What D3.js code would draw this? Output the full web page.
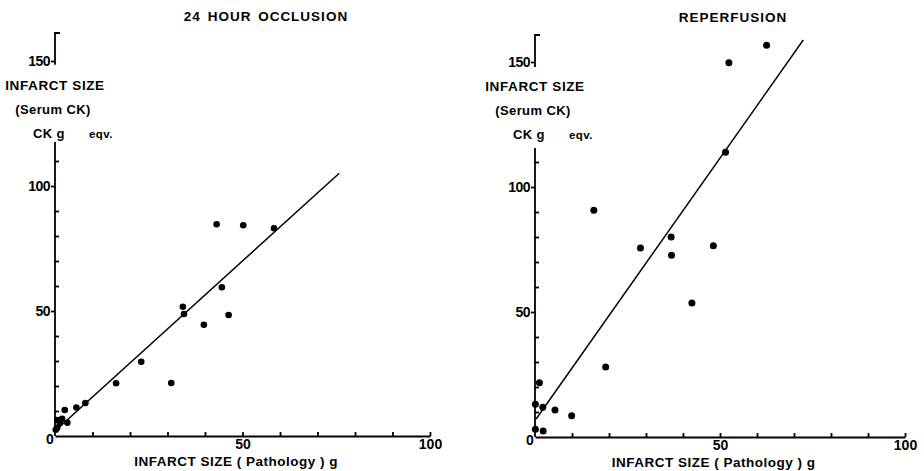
<!DOCTYPE html>
<meta charset="utf-8">
<style>
body { margin: 0; background: #fff; }
svg text {
  font-family: "Liberation Sans", Arial, sans-serif;
  font-weight: bold;
  fill: #000;
}
.axis path, .axis line { stroke: #000; stroke-width: 1.8; fill: none; }
</style>
<body>
<script src="https://d3js.org/d3.v7.min.js"></script>
<script>
// infarct size by pathology (g) against infarct size by serum CK (CK g eqv.)

// 24 hour occlusion
var occlusionX = [43.1, 50.2, 58.4, 44.5, 34.1, 34.4, 39.7, 46.3, 23.0, 16.3, 31.0,
                  2.6, 5.7, 8.1, 0.6, 1.9, 3.3, 0.6, 0.2, 1.3];
var occlusionY = [84.7, 84.3, 83.1, 59.5, 51.7, 48.8, 44.5, 48.4, 29.7, 21.1, 21.2,
                  10.4, 11.4, 13.2, 6.4, 6.9, 5.3, 3.3, 2.5, 5.2];
var occlusionFitX = [0, 75.8];
var occlusionFitY = [2.0, 105.1];

// reperfusion
var reperfusionX = [15.9, 28.5, 36.8, 36.9, 48.2, 42.4, 19.1, 1.2, 52.4, 62.6, 51.5,
                    0.1, 2.1, 5.4, 9.9, 0.1, 2.2];
var reperfusionY = [90.7, 75.6, 80.0, 72.7, 76.5, 53.6, 28.0, 21.7, 149.7, 156.7, 113.9,
                    13.1, 11.9, 10.8, 8.5, 3.1, 2.4];
var reperfusionFitX = [0.3, 72.5];
var reperfusionFitY = [7.2, 158.8];

var xTicks = [10, 20, 30, 40, 50, 60, 70, 80, 90, 100];
var xTickLabels = [50, 100];
var yMajorTicks = [50, 100, 150];
var yMinorTicks = [10, 20, 30, 40, 60, 70, 80, 90, 110];

var svg = d3.select("body").append("svg")
    .attr("width", 924)
    .attr("height", 471)
    .style("background", "#fff");

var panels = [
  {title: "24 HOUR OCCLUSION", xs: occlusionX, ys: occlusionY,
   fitX: occlusionFitX, fitY: occlusionFitY,
   left: 55, right: 430, bottom: 436, top150: 61, r: 3.3,
   titleX: 266, titleY: 21, lowTop: 117.6, highBottom: 148.5, highTop: 161.2},
  {title: "REPERFUSION", xs: reperfusionX, ys: reperfusionY,
   fitX: reperfusionFitX, fitY: reperfusionFitY,
   left: 535, right: 905, bottom: 437, top150: 62, r: 3.5,
   titleX: 733, titleY: 22, lowTop: 115.6, highBottom: 148, highTop: 160.8}
];

panels.forEach(function(p) {
  var x = d3.scaleLinear().domain([0, 100]).range([p.left, p.right]);
  var y = d3.scaleLinear().domain([0, 150]).range([p.bottom, p.top150]);
  var g = svg.append("g");

  // x axis, ticks pointing up into the plot
  g.append("g")
      .attr("class", "axis")
      .attr("transform", "translate(0," + y(0) + ")")
      .call(d3.axisBottom(x)
        .tickValues(xTicks)
        .tickSize(-4)
        .tickSizeOuter(0)
        .tickPadding(3)
        .tickFormat(function(d) { return xTickLabels.indexOf(d) >= 0 ? d : ""; }))
      .call(function(a) {
        a.selectAll("text").style("font-size", "14px").style("font-family", null);
      });

  // y axis drawn in two pieces, broken above 110
  var seg = d3.line().x(x(0)).y(function(d) { return y(d); });
  g.append("path")
      .attr("d", seg([0, p.lowTop]))
      .attr("stroke", "#000").attr("stroke-width", 1.8).attr("fill", "none");
  g.append("path")
      .attr("d", "M" + (x(0) + 5) + "," + y(p.highTop) + "H" + x(0) + "V" + y(p.highBottom))
      .attr("stroke", "#000").attr("stroke-width", 1.8).attr("fill", "none");

  g.append("g")
      .attr("class", "axis")
      .attr("transform", "translate(" + x(0) + ",0)")
      .call(d3.axisLeft(y).tickValues(yMinorTicks).tickSize(-4).tickFormat(""))
      .call(function(a) { a.select(".domain").remove(); });

  g.append("g")
      .attr("class", "axis")
      .attr("transform", "translate(" + x(0) + ",0)")
      .call(d3.axisLeft(y).tickValues(yMajorTicks).tickSize(4).tickPadding(1))
      .call(function(a) {
        a.select(".domain").remove();
        a.selectAll("text").style("font-size", "14px").style("font-family", null)
          .style("letter-spacing", "-0.5px");
      });

  // origin label
  g.append("text")
      .attr("x", x(0) - 5)
      .attr("y", y(0) + 8)
      .attr("text-anchor", "middle")
      .style("font-size", "14px")
      .text("0");

  // titles and axis labels
  g.append("text")
      .attr("x", p.titleX)
      .attr("y", p.titleY)
      .attr("text-anchor", "middle")
      .style("font-size", "13.5px")
      .style("letter-spacing", "1px")
      .style("word-spacing", "2px")
      .text(p.title);

  g.append("text")
      .attr("x", x(0))
      .attr("y", p.bottom - 346)
      .attr("text-anchor", "middle")
      .style("font-size", "13.5px")
      .style("letter-spacing", "0.6px")
      .text("INFARCT SIZE");

  g.append("text")
      .attr("x", x(0) - 2)
      .attr("y", p.bottom - 322)
      .attr("text-anchor", "middle")
      .style("font-size", "13px")
      .style("letter-spacing", "0.4px")
      .text("(Serum CK)");

  var ck = g.append("text")
      .attr("y", p.bottom - 298)
      .style("font-size", "13px")
      .style("letter-spacing", "0.4px");
  ck.append("tspan").attr("x", x(0) - 22).text("CK g");
  ck.append("tspan").attr("x", x(0) + 34).style("font-size", "11.5px").text("eqv.");

  g.append("text")
      .attr("x", x(48.3))
      .attr("y", p.bottom + 30)
      .attr("text-anchor", "middle")
      .style("font-size", "13.5px")
      .style("letter-spacing", "0.5px")
      .text("INFARCT SIZE ( Pathology ) g");

  // regression line
  var fit = d3.range(p.fitX.length).map(function(i) { return [p.fitX[i], p.fitY[i]]; });
  g.append("path")
      .attr("d", d3.line().x(function(d) { return x(d[0]); }).y(function(d) { return y(d[1]); })(fit))
      .attr("stroke", "#000")
      .attr("stroke-width", 1.5)
      .attr("fill", "none");

  // points
  g.selectAll(".dot")
      .data(d3.range(p.xs.length))
    .enter().append("circle")
      .attr("class", "dot")
      .attr("cx", function(i) { return x(p.xs[i]); })
      .attr("cy", function(i) { return y(p.ys[i]); })
      .attr("r", p.r)
      .attr("fill", "#000");
});
</script>
</body>
